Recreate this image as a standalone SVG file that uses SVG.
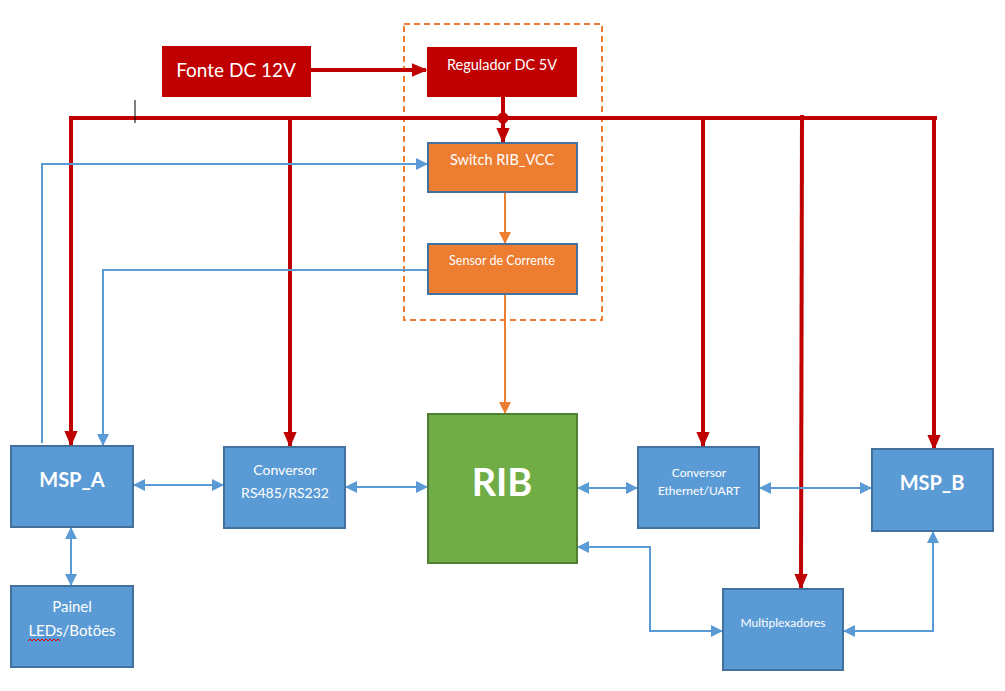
<svg xmlns="http://www.w3.org/2000/svg" width="1005" height="691" viewBox="0 0 1005 691">
<style>
.red{fill:#C00000}
.org{fill:#ED7D31;stroke:#41719C;stroke-width:2}
.blu{fill:#5B9BD5;stroke:#41719C;stroke-width:2}
.grn{fill:#70AD47;stroke:#507E32;stroke-width:2}
text{font-family:Lato,"Liberation Sans",sans-serif;fill:#fff;text-anchor:middle}
.b{font-weight:bold}
.rl{fill:none;stroke:#C00000;stroke-width:4}
.bl{fill:none;stroke:#5B9BD5;stroke-width:2}
.ol{fill:none;stroke:#ED7D31;stroke-width:2}
</style>
<defs>
<marker id="ar" markerWidth="4" markerHeight="4" refX="3.6" refY="2" orient="auto" markerUnits="strokeWidth"><path d="M0,0.3 L4,2 L0,3.7Z" fill="#C00000"/></marker>
<marker id="ab" markerWidth="6" markerHeight="6" refX="5.5" refY="3" orient="auto-start-reverse" markerUnits="strokeWidth"><path d="M0,0 L6,3 L0,6Z" fill="#5B9BD5"/></marker>
<marker id="ao" markerWidth="6" markerHeight="6" refX="5.5" refY="3" orient="auto" markerUnits="strokeWidth"><path d="M0,0 L6,3 L0,6Z" fill="#ED7D31"/></marker>
</defs>
<rect width="1005" height="691" fill="#fff"/>
<rect x="404" y="24" width="198" height="296" fill="none" stroke="#ED7D31" stroke-width="2" stroke-dasharray="6,4"/>
<g id="connectors">
<line class="rl" x1="311" y1="70" x2="426" y2="70" marker-end="url(#ar)"/>
<polyline class="rl" points="937,118 71,118 71,445" marker-end="url(#ar)"/>
<line class="rl" x1="503" y1="97" x2="503" y2="142" marker-end="url(#ar)"/>
<circle cx="503" cy="118" r="5.5" fill="#C00000"/>
<line class="rl" x1="290" y1="118" x2="290" y2="446" marker-end="url(#ar)"/>
<line class="rl" x1="703" y1="118" x2="703" y2="446" marker-end="url(#ar)"/>
<line class="rl" x1="802" y1="115" x2="801" y2="588" marker-end="url(#ar)"/>
<line class="rl" x1="934" y1="118" x2="934" y2="449" marker-end="url(#ar)"/>
<line x1="135" y1="100" x2="135" y2="123" stroke="#000" stroke-width="1"/>
<polyline class="bl" points="42,443 42,164 427,164" marker-end="url(#ab)"/>
<polyline class="bl" points="428,270 103,270 103,445" marker-end="url(#ab)"/>
<line class="ol" x1="505" y1="193" x2="505" y2="243" marker-end="url(#ao)"/>
<line class="ol" x1="505" y1="295" x2="505" y2="413" marker-end="url(#ao)"/>
<line class="bl" x1="134" y1="485" x2="223" y2="485" marker-start="url(#ab)" marker-end="url(#ab)"/>
<line class="bl" x1="346" y1="487" x2="427" y2="487" marker-start="url(#ab)" marker-end="url(#ab)"/>
<line class="bl" x1="71" y1="528" x2="71" y2="585" marker-start="url(#ab)" marker-end="url(#ab)"/>
<line class="bl" x1="578" y1="488" x2="637" y2="488" marker-start="url(#ab)" marker-end="url(#ab)"/>
<line class="bl" x1="760" y1="488" x2="871" y2="488" marker-start="url(#ab)" marker-end="url(#ab)"/>
<polyline class="bl" points="578,547 650,547 650,631 722,631" marker-start="url(#ab)" marker-end="url(#ab)"/>
<polyline class="bl" points="844,631 933,631 933,532" marker-start="url(#ab)" marker-end="url(#ab)"/>
</g>
<g id="fonte"><rect class="red" x="162" y="46" width="149" height="51"/><text x="236" y="77" font-size="19">Fonte DC 12V</text></g>
<g id="regulador"><rect class="red" x="427" y="47" width="150" height="50"/><text x="502" y="70" font-size="14.5">Regulador DC 5V</text></g>
<g id="switch"><rect class="org" x="428" y="143" width="149" height="49"/><text x="502" y="165" font-size="14.5">Switch RIB_VCC</text></g>
<g id="sensor"><rect class="org" x="428" y="244" width="149" height="50"/><text x="502" y="265" font-size="12.5">Sensor de Corrente</text></g>
<g id="rib"><rect class="grn" x="428" y="414" width="149" height="149"/><text x="502" y="496" font-size="38" class="b">RIB</text></g>
<g id="msp_a"><rect class="blu" x="11" y="446" width="122" height="81"/><text x="72" y="487" font-size="20" class="b">MSP_A</text></g>
<g id="conv485"><rect class="blu" x="224" y="447" width="121" height="81"/><text x="285" y="475" font-size="14">Conversor</text><text x="285" y="498" font-size="14">RS485/RS232</text></g>
<g id="painel"><rect class="blu" x="11" y="586" width="122" height="81"/><text x="72" y="612" font-size="15">Painel</text><text x="72" y="636" font-size="15">LEDs/Botões</text><path d="M28,641 l2,-2 l2,2 l2,-2 l2,2 l2,-2 l2,2 l2,-2 l2,2 l2,-2 l2,2 l2,-2 l2,2 l2,-2 l2,2 l2,-2 l2,2" fill="none" stroke="#E00000" stroke-width="1"/></g>
<g id="convEth"><rect class="blu" x="638" y="447" width="121" height="81"/><text x="699" y="477" font-size="12">Conversor</text><text x="699" y="495" font-size="12">Ethernet/UART</text></g>
<g id="msp_b"><rect class="blu" x="872" y="449" width="121" height="82"/><text x="932" y="490" font-size="20" class="b">MSP_B</text></g>
<g id="mux"><rect class="blu" x="723" y="589" width="120" height="81"/><text x="783" y="627" font-size="12">Multiplexadores</text></g>
</svg>
